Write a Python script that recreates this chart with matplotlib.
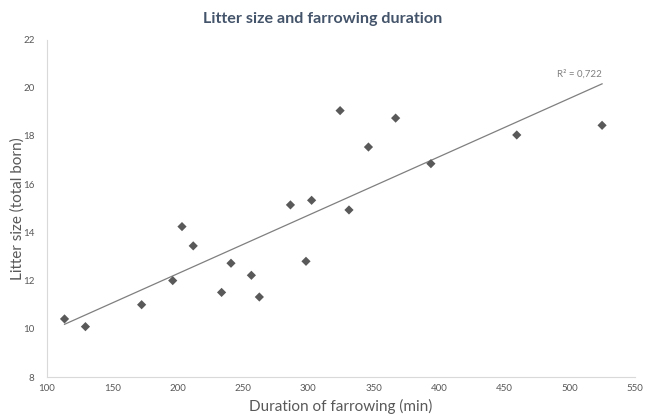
import numpy as np
import matplotlib
matplotlib.use("Agg")
import matplotlib.pyplot as plt

duration = [113.4, 129.4, 172.4, 196.2, 203.3, 211.9, 233.6, 240.8, 256.4, 262.5,
            286.3, 298.2, 302.5, 324.3, 331.1, 346.0, 366.8, 393.8, 459.5, 524.8]
litter = [10.41, 10.09, 11.0, 12.0, 14.24, 13.44, 11.51, 12.72, 12.22, 11.32,
          15.14, 12.8, 15.33, 19.05, 14.93, 17.54, 18.74, 16.85, 18.04, 18.44]
xticks = [100, 150, 200, 250, 300, 350, 400, 450, 500, 550]
yticks = [8, 10, 12, 14, 16, 18, 20, 22]
title = "Litter size and farrowing duration"
xlabel = "Duration of farrowing (min)"
ylabel = "Litter size (total born)"
r2_label = "R² = 0,722"

plt.rcParams['font.family'] = ['Lato', 'DejaVu Sans']

fig = plt.figure(figsize=(6.45, 4.18), dpi=100)
ax = fig.add_axes([0.0729, 0.098, 0.9116, 0.8075])

x = np.array(duration)
y = np.array(litter)
coef = np.polyfit(x, y, 1)
xs = np.array([x.min(), x.max()])
ax.plot(xs, np.polyval(coef, xs), color='#7f7f7f', lw=0.9, zorder=2)
ax.scatter(x, y, marker='D', s=22, color='#595959', edgecolors='none', zorder=3)

ax.set_xlim(100, 550)
ax.set_ylim(8, 22)
ax.set_xticks(xticks)
ax.set_yticks(yticks)
ax.tick_params(axis='both', length=0, labelsize=7, labelcolor='#595959')
ax.tick_params(axis='y', pad=9)
ax.tick_params(axis='x', pad=5)
for s in ['top', 'right']:
    ax.spines[s].set_visible(False)
for s in ['left', 'bottom']:
    ax.spines[s].set_color('#d9d9d9')
    ax.spines[s].set_linewidth(0.8)

ax.set_xlabel(xlabel, fontsize=11, color='#595959', labelpad=4)
ax.set_ylabel(ylabel, fontsize=11, color='#595959', labelpad=-1)
fig.text(0.5, 0.955, title, ha='center', va='center', fontsize=11.6,
         fontweight='bold', color='#44546A')
ax.text(0.906, 0.898, r2_label, transform=ax.transAxes, ha='center', va='center',
        fontsize=7, color='#808080')

fig.savefig('out.png', dpi=100)
